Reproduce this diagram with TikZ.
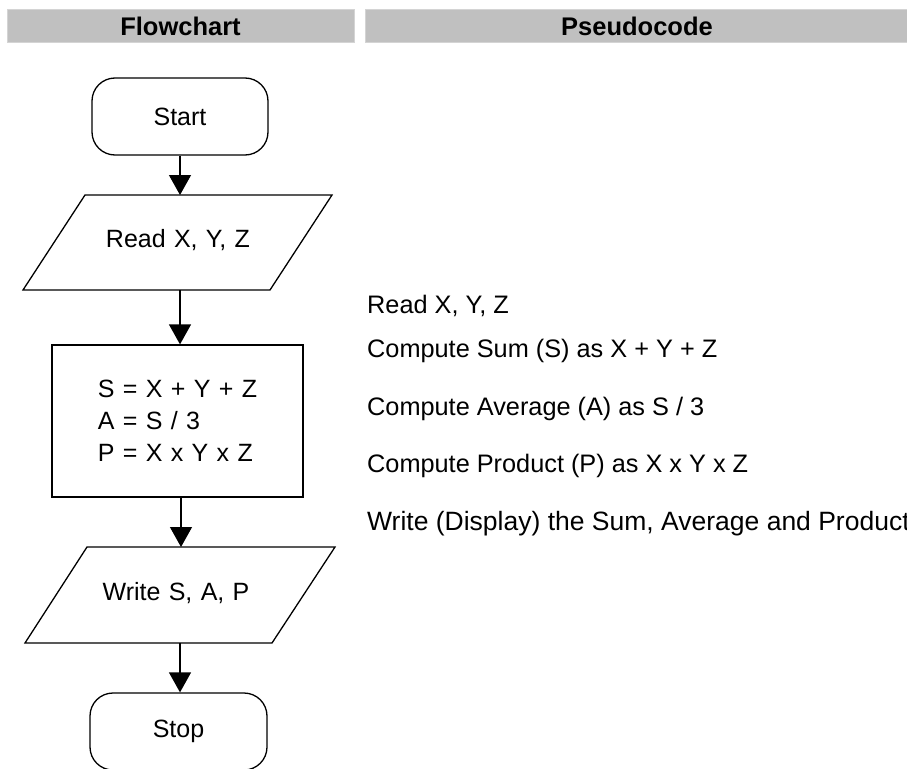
\documentclass[tikz,border=0pt]{standalone}
\usepackage{fontspec}
\setmainfont{Liberation Sans}
\newfontfamily\chartface[WordSpace=1.2]{Liberation Sans}
\usetikzlibrary{arrows.meta}
\definecolor{headgray}{HTML}{C0C0C0}
\definecolor{headedge}{HTML}{D4D4D4}
\begin{document}
\begin{tikzpicture}[x=1pt,y=-1pt,
  every node/.style={inner sep=0pt},
  chartfont/.style={font=\chartface\fontsize{25}{32}\selectfont},
  term/.style={draw, line width=1.3pt, rounded corners=23pt,
    minimum width=176pt, minimum height=77pt, chartfont},
  proc/.style={draw, line width=1.3pt, minimum width=251pt,
    minimum height=152pt, align=left, chartfont},
  iobox/.style={draw, line width=1.3pt, line join=miter},
  flow/.style={line width=1.3pt, -{Triangle[width=22pt,length=20pt]}},
  headbar/.style={fill=headgray, draw=headedge, line width=1pt,
    minimum height=33pt, font=\fontsize{25.5}{30}\selectfont\bfseries},
  pseudo/.style={anchor=base west, font=\fontsize{25.3}{30}\selectfont}
]
\useasboundingbox (0,0) rectangle (907,768);
\clip (0,0) rectangle (907,768);

% column headers
\node[headbar, minimum width=347pt] (hflow) at (180.5,26.5) {Flowchart};
\node[headbar, minimum width=544pt] (hpseudo) at (637,26.5) {Pseudocode};

% terminator: start
\node[term] (start) at (180,116.5) {Start};

% input parallelogram
\draw[iobox] (85,195) -- (332,195) -- (270,290) -- (23,290) -- cycle;
\coordinate (readtop) at (180,195);
\coordinate (readbot) at (180,290);
\node[chartfont] (read) at (178,240) {Read X, Y, Z};

% process box
\node[proc] (calc) at (177.5,421) {S = X + Y + Z\\A = S / 3\\P = X x Y x Z};

% output parallelogram
\draw[iobox] (87,547) -- (335,547) -- (272,643) -- (25,643) -- cycle;
\coordinate (writetop) at (181,547);
\coordinate (writebot) at (180,643);
\node[chartfont] (write) at (176,593) {Write S, A, P};

% terminator: stop
\node[term, minimum width=177pt] (stop) at (178.5,731.5) {Stop};

% connectors
\draw[flow] (start.south -| readtop) -- (readtop);
\draw[flow] (readbot) -- (calc.north -| readbot);
\draw[flow] (calc.south -| writetop) -- (writetop);
\draw[flow] (writebot) -- (stop.north -| writebot);

% pseudocode
\node[pseudo] (p1) at (367,313) {Read X, Y, Z};
\node[pseudo] (p2) at (367,357) {Compute Sum (S) as X + Y + Z};
\node[pseudo] (p3) at (367,415) {Compute Average (A) as S / 3};
\node[pseudo] (p4) at (367,472) {Compute Product (P) as X x Y x Z};
\node[pseudo, font=\fontsize{26.5}{30}\selectfont] (p5) at (367,530)
  {Write (Display) the Sum, Average and Product};
\end{tikzpicture}
\end{document}
